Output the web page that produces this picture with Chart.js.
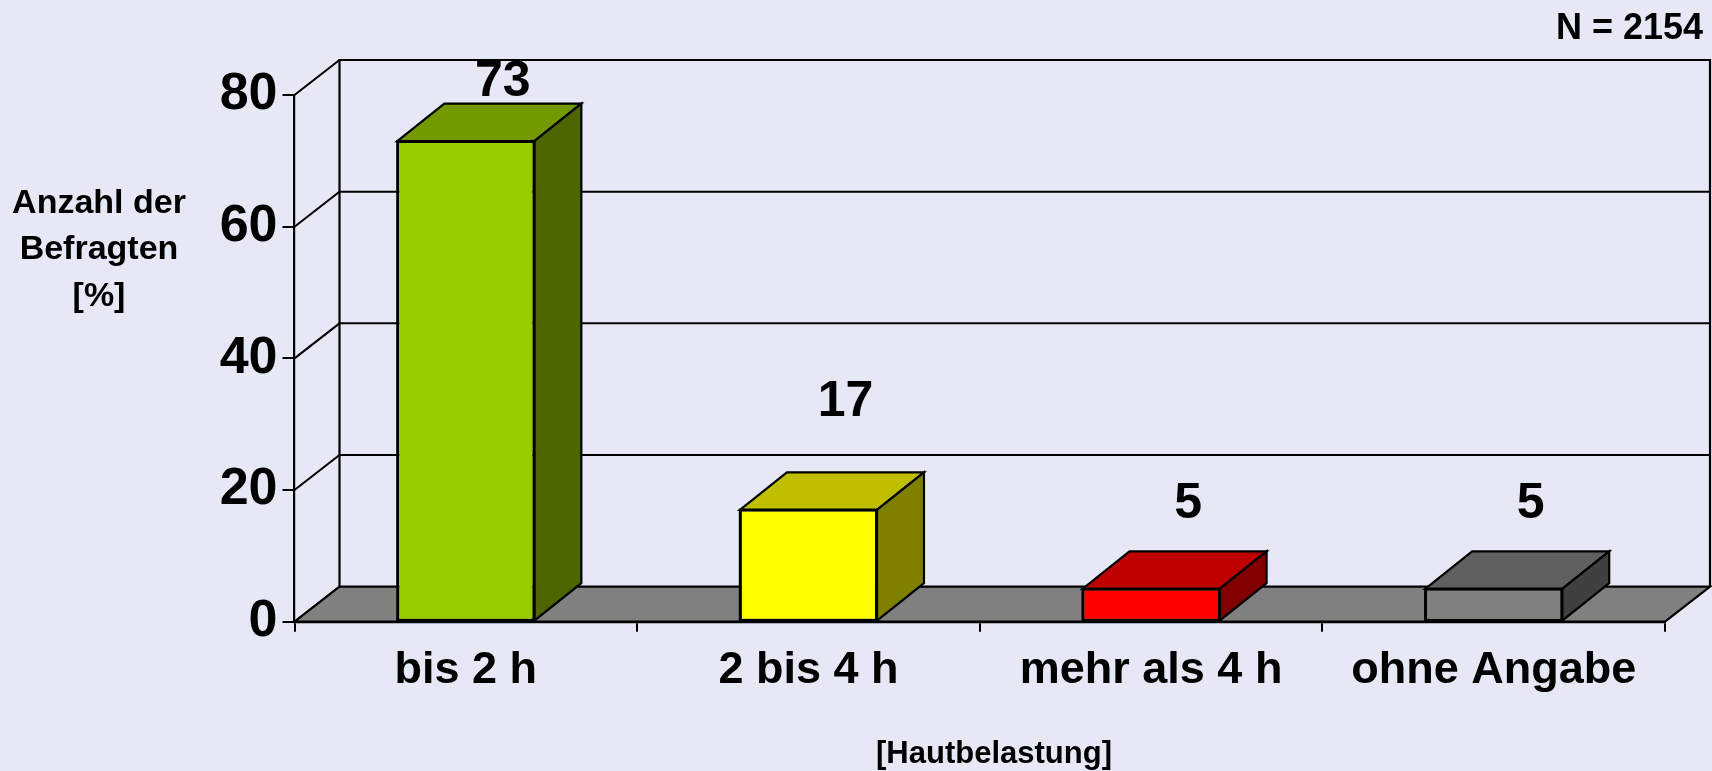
<!DOCTYPE html>
<html>
<head>
<meta charset="utf-8">
<script src="https://cdn.jsdelivr.net/npm/chart.js@4"></script>
<style>
  html, body { margin: 0; padding: 0; background: #e6e9f5; }
  #wrap { width: 1712px; height: 771px; position: relative; }
</style>
</head>
<body>
<div id="wrap"><canvas id="chart"></canvas></div>
<script>
// Daten
const categories = ['bis 2 h', '2 bis 4 h', 'mehr als 4 h', 'ohne Angabe'];
const values = [73, 17, 5, 5];
const yTicks = [0, 20, 40, 60, 80];
const frontColors = ['#99cc00', '#ffff00', '#ff0000', '#808080'];
const topColors = ['#739900', '#bfbf00', '#bf0000', '#606060'];
const sideColors = ['#4d6600', '#808000', '#800000', '#404040'];

const FONT = '"Liberation Sans", Arial, sans-serif';
const FLOOR = { dx: 45, dy: -35 };   // Tiefe von Wand/Boden
const BAR = { dx: 47, dy: -37.5 };   // Tiefe der Säulen

function poly(ctx, pts, fill) {
    ctx.beginPath();
    ctx.moveTo(pts[0][0], pts[0][1]);
    for (let i = 1; i < pts.length; i++) ctx.lineTo(pts[i][0], pts[i][1]);
    ctx.closePath();
    if (fill) { ctx.fillStyle = fill; ctx.fill(); }
    ctx.stroke();
}

// Rückwand, Seitenwand und Boden
const wallPlugin = {
    id: 'wall',
    beforeDraw(chart) {
        const ctx = chart.ctx;
        const y = chart.scales.y;
        const a = chart.chartArea;
        const L = a.left, R = a.right;
        const top = y.getPixelForValue(yTicks[yTicks.length - 1]);
        const base = y.getPixelForValue(0);
        ctx.save();
        ctx.strokeStyle = '#000';
        ctx.lineWidth = 2.2;
        ctx.lineJoin = 'miter';
        // Rückwand
        ctx.beginPath();
        ctx.moveTo(L + FLOOR.dx, base + FLOOR.dy);
        ctx.lineTo(L + FLOOR.dx, top + FLOOR.dy);
        ctx.lineTo(R + FLOOR.dx, top + FLOOR.dy);
        ctx.lineTo(R + FLOOR.dx, base + FLOOR.dy);
        ctx.stroke();
        // Gitterlinien + Diagonalen
        ctx.lineWidth = 2;
        for (const v of yTicks) {
            const py = y.getPixelForValue(v);
            ctx.beginPath();
            ctx.moveTo(L, py);
            ctx.lineTo(L + FLOOR.dx, py + FLOOR.dy);
            if (v > 0) ctx.lineTo(R + FLOOR.dx, py + FLOOR.dy);
            ctx.stroke();
        }
        // Boden
        ctx.lineWidth = 2.2;
        poly(ctx, [[L, base], [R, base], [R + FLOOR.dx, base + FLOOR.dy], [L + FLOOR.dx, base + FLOOR.dy]], '#808080');
        ctx.restore();
    },
    afterDatasetsDraw(chart) {
        const ctx = chart.ctx;
        const meta = chart.getDatasetMeta(0);
        ctx.save();
        ctx.strokeStyle = '#000';
        ctx.lineWidth = 2.2;
        ctx.lineJoin = 'miter';
        meta.data.forEach((bar, i) => {
            const l = bar.x - bar.width / 2, r = bar.x + bar.width / 2;
            const t = bar.y, b = bar.base;
            // Deckfläche
            poly(ctx, [[l, t], [r, t], [r + BAR.dx, t + BAR.dy], [l + BAR.dx, t + BAR.dy]], topColors[i]);
            // Seitenfläche
            poly(ctx, [[r, t], [r + BAR.dx, t + BAR.dy], [r + BAR.dx, b + BAR.dy], [r, b]], sideColors[i]);
            // Front noch einmal umranden
            ctx.strokeRect(l, t, r - l, b - t);
        });
        // Werte über den Säulen
        ctx.fillStyle = '#000';
        ctx.font = 'bold 50px ' + FONT;
        ctx.textAlign = 'center';
        ctx.textBaseline = 'middle';
        meta.data.forEach((bar, i) => {
            const v = values[i];
            let ly = bar.y + BAR.dy - (38 + 1.9 * v);
            ly = Math.max(ly, chart.chartArea.top - 13);
            ctx.fillText(String(v), bar.x + 37, ly);
        });
        ctx.restore();
    },
    afterDraw(chart) {
        const ctx = chart.ctx;
        ctx.save();
        ctx.fillStyle = '#000';
        ctx.textAlign = 'center';
        ctx.textBaseline = 'middle';
        ctx.font = 'bold 34px ' + FONT;
        ctx.fillText('Anzahl der', 99, 204);
        ctx.fillText('Befragten', 99, 250);
        ctx.fillText('[%]', 99, 297);
        ctx.font = 'bold 31px ' + FONT;
        ctx.fillText('[Hautbelastung]', 994, 754);
        ctx.font = 'bold 36px ' + FONT;
        ctx.textAlign = 'right';
        ctx.fillText('N = 2154', 1703, 29);
        ctx.restore();
    }
};

new Chart(document.getElementById('chart'), {
    type: 'bar',
    data: {
        labels: categories,
        datasets: [{
            data: values,
            backgroundColor: frontColors,
            borderColor: '#000',
            borderWidth: 2,
            borderSkipped: false,
            categoryPercentage: 1,
            barPercentage: 0.4
        }]
    },
    options: {
        responsive: true,
        maintainAspectRatio: false,
        animation: false,
        devicePixelRatio: 1,
        layout: { padding: { top: 95, right: 47, left: 0, bottom: 0 } },
        plugins: { legend: { display: false }, tooltip: { enabled: false } },
        scales: {
            x: {
                grid: { offset: true, drawOnChartArea: false, tickLength: 10, color: '#000', lineWidth: 2 },
                border: { display: true, color: '#000', width: 2.2 },
                ticks: { color: '#000', font: { family: FONT, size: 45, weight: 'bold' }, padding: 12, maxRotation: 0 },
                afterFit: s => { s.height = 149.3; }
            },
            y: {
                min: 0,
                max: 80,
                ticks: { stepSize: 20, color: '#000', font: { family: FONT, size: 52, weight: 'bold' }, padding: 5 },
                grid: { drawOnChartArea: false, tickLength: 12, color: '#000', lineWidth: 2 },
                border: { display: true, color: '#000', width: 2.2 },
                afterFit: s => { s.width = 294.5; }
            }
        }
    },
    plugins: [wallPlugin]
});
</script>
</body>
</html>
